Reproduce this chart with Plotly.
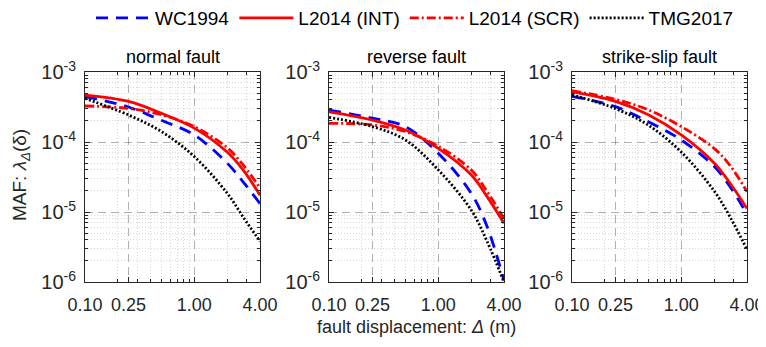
import numpy as np
import plotly.graph_objects as go

# ---------------- data ----------------
displacement = [0.1, 0.25, 0.5, 1.0, 2.0, 2.8, 4.0]  # fault displacement (m)

panel_titles = ["normal fault", "reverse fault", "strike-slip fault"]
series_names = ["WC1994", "L2014 (INT)", "L2014 (SCR)", "TMG2017"]

# normal fault
normal_wc1994 = [4.47e-4, 3.16e-4, 2.04e-4, 1.26e-4, 5.0e-5, 2.7e-5, 1.32e-5]
normal_l2014_int = [4.68e-4, 3.80e-4, 2.57e-4, 1.58e-4, 7.2e-5, 4.0e-5, 1.74e-5]
normal_l2014_scr = [3.27e-4, 3.02e-4, 2.45e-4, 1.66e-4, 8.3e-5, 4.7e-5, 2.2e-5]
normal_tmg2017 = [4.2e-4, 2.43e-4, 1.41e-4, 6.2e-5, 1.86e-5, 8.5e-6, 3.8e-6]

# reverse fault
reverse_wc1994 = [2.86e-4, 2.19e-4, 1.66e-4, 6.9e-5, 1.86e-5, 6.2e-6, 1.05e-6]
reverse_l2014_int = [2.70e-4, 2.06e-4, 1.48e-4, 8.1e-5, 3.4e-5, 1.66e-5, 6.9e-6]
reverse_l2014_scr = [1.85e-4, 1.75e-4, 1.41e-4, 8.7e-5, 4.0e-5, 1.95e-5, 8.1e-6]
reverse_tmg2017 = [2.25e-4, 1.66e-4, 1.07e-4, 4.0e-5, 1.07e-5, 3.8e-6, 1.0e-6]

# strike-slip fault
strike_wc1994 = [4.5e-4, 3.2e-4, 1.95e-4, 1.07e-4, 4.5e-5, 2.3e-5, 9.3e-6]
strike_l2014_int = [5.25e-4, 3.8e-4, 2.45e-4, 1.26e-4, 5.0e-5, 2.57e-5, 1.12e-5]
strike_l2014_scr = [5.4e-4, 4.07e-4, 2.88e-4, 1.66e-4, 8.1e-5, 4.6e-5, 1.95e-5]
strike_tmg2017 = [4.7e-4, 3.0e-4, 1.74e-4, 7.2e-5, 2.0e-5, 8.5e-6, 2.9e-6]

x_tick_vals = [0.1, 0.25, 1.0, 4.0]
x_tick_text = ["0.10", "0.25", "1.00", "4.00"]
x_minor_vals = [0.2, 0.3, 0.4, 0.5, 0.6, 0.7, 0.8, 0.9, 2, 3]
y_tick_vals = [1e-6, 1e-5, 1e-4, 1e-3]
y_tick_text = ["10<sup>-6</sup>", "10<sup>-5</sup>", "10<sup>-4</sup>", "10<sup>-3</sup>"]
y_minor_vals = [k * 10.0 ** e for e in (-6, -5, -4) for k in range(2, 10)]

panels = [
    [normal_wc1994, normal_l2014_int, normal_l2014_scr, normal_tmg2017],
    [reverse_wc1994, reverse_l2014_int, reverse_l2014_scr, reverse_tmg2017],
    [strike_wc1994, strike_l2014_int, strike_l2014_scr, strike_tmg2017],
]

# ---------------- styling ----------------
W, H = 766, 347
OFF = 8  # page body margin of the rendered html
FONT = "Arial, Liberation Sans, Helvetica, sans-serif"
AX = "#262626"
styles = [
    dict(color="#0000ff", width=2.8, dash="12px,8px"),
    dict(color="#ff0000", width=2.8, dash="solid"),
    dict(color="#ff0000", width=2.8, dash="9px,3px,2px,3px"),
    dict(color="#000000", width=2.8, dash="2px,2px"),
]


def px_x(v):
    return (v - OFF) / W


def px_y(v):
    return 1 - (v - OFF) / H


x_domains_px = [(85, 260), (329, 504), (572, 747)]
y_domain = [px_y(282), px_y(72)]

fig = go.Figure()
for p, series in enumerate(panels):
    sfx = "" if p == 0 else str(p + 1)
    for s, vals in enumerate(series):
        fig.add_trace(go.Scatter(
            x=displacement, y=vals, mode="lines", name=series_names[s],
            line=dict(shape="spline", smoothing=1.0, **styles[s]),
            showlegend=(p == 0), legendgroup=series_names[s],
            xaxis="x" + sfx, yaxis="y" + sfx,
        ))

    common_minor = dict(ticks="inside", ticklen=3, tickcolor=AX, showgrid=True,
                        gridcolor="rgba(60,60,60,0.2)", griddash="1px,2px", gridwidth=1)
    xa = dict(
        type="log", range=[-1, np.log10(4)],
        domain=[px_x(x_domains_px[p][0]), px_x(x_domains_px[p][1])],
        tickmode="array", tickvals=x_tick_vals, ticktext=x_tick_text,
        showline=True, linecolor=AX, linewidth=1, mirror="allticks",
        ticks="inside", ticklen=5, tickcolor=AX,
        showgrid=True, gridcolor="rgba(60,60,60,0.4)", griddash="8px,5px", gridwidth=1,
        minor=dict(tickvals=x_minor_vals, **common_minor),
        zeroline=False, tickfont=dict(size=18, color=AX, family=FONT),
        ticklabelstandoff=6, anchor="y" + sfx,
    )
    ya = dict(
        type="log", range=[-6, -3], domain=y_domain,
        tickmode="array", tickvals=y_tick_vals, ticktext=y_tick_text,
        showline=True, linecolor=AX, linewidth=1, mirror="allticks",
        ticks="inside", ticklen=5, tickcolor=AX,
        showgrid=True, gridcolor="rgba(60,60,60,0.4)", griddash="8px,5px", gridwidth=1,
        minor=dict(tickvals=y_minor_vals, **common_minor),
        zeroline=False, tickfont=dict(size=20, color=AX, family=FONT),
        ticklabelstandoff=4, anchor="x" + sfx,
    )
    fig.layout["xaxis" + sfx] = xa
    fig.layout["yaxis" + sfx] = ya

    cx = px_x((x_domains_px[p][0] + x_domains_px[p][1]) / 2)
    fig.add_annotation(text=panel_titles[p], x=cx, y=px_y(57), xref="paper", yref="paper",
                       showarrow=False, xanchor="center", yanchor="middle",
                       font=dict(size=18, color="#000000", family=FONT))

fig.add_annotation(text="fault displacement: <i>Δ</i> (m)", x=px_x(416), y=px_y(327),
                   xref="paper", yref="paper", showarrow=False, xanchor="center", yanchor="middle",
                   font=dict(size=18, color=AX, family=FONT))
fig.add_annotation(text="MAF: <i>λ</i><sub><i>Δ</i></sub>(δ)", x=px_x(21), y=px_y(175),
                   xref="paper", yref="paper", showarrow=False, xanchor="center", yanchor="middle",
                   textangle=-90, font=dict(size=19, color=AX, family=FONT))

fig.update_layout(
    width=W, height=H, margin=dict(l=0, r=0, t=0, b=0, autoexpand=False),
    paper_bgcolor="white", plot_bgcolor="white",
    font=dict(family=FONT, color="#000000"),
    legend=dict(orientation="h", x=px_x(415), xanchor="center", y=px_y(18), yanchor="middle",
                font=dict(size=19, color="#000000", family=FONT), itemwidth=54,
                bgcolor="rgba(0,0,0,0)", borderwidth=0),
)

fig.write_html("out.html")
